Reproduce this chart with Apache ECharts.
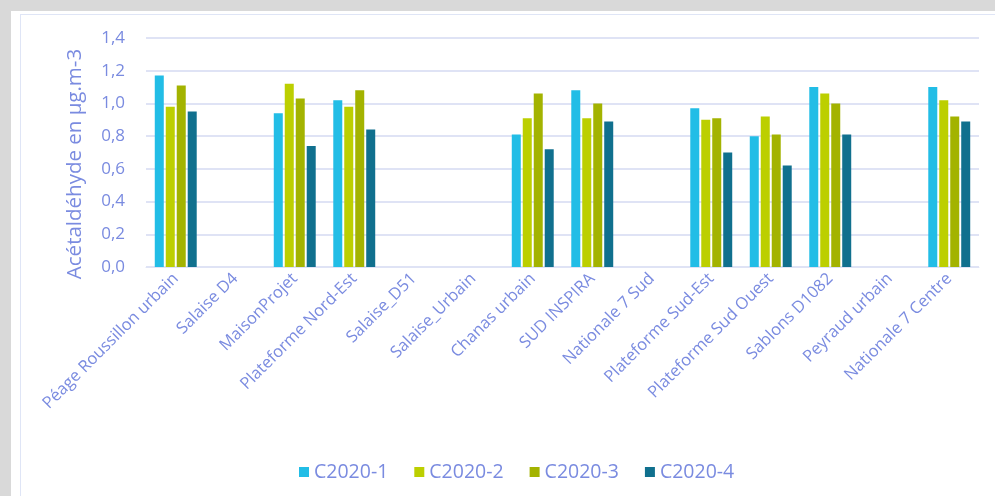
<!DOCTYPE html>
<html>
<head>
<meta charset="utf-8">
<script src="https://cdn.jsdelivr.net/npm/echarts@6/dist/echarts.min.js"></script>
<style>
	body{margin:0;background:#d9d9d9;overflow:hidden;}
	#frame{position:absolute;left:11px;top:11px;width:984px;height:485px;background:#fff;}
	#inner{position:absolute;left:9px;top:3px;width:1000px;height:500px;border:1px solid #dfe5f6;}
	#main{position:absolute;left:0;top:0;width:995px;height:496px;}
</style>
</head>
<body>
<div id="frame"><div id="inner"></div></div>
<div id="main"></div>
<script>
var categories = ['Péage Roussillon urbain','Salaise D4','MaisonProjet','Plateforme Nord-Est','Salaise_D51','Salaise_Urbain','Chanas urbain','SUD INSPIRA','Nationale 7 Sud','Plateforme Sud-Est','Plateforme Sud Ouest','Sablons D1082','Peyraud urbain','Nationale 7 Centre'];
var seriesNames = ['C2020-1','C2020-2','C2020-3','C2020-4'];
var c1 = [1.17, null, 0.94, 1.02, null, null, 0.81, 1.08, null, 0.97, 0.80, 1.10, null, 1.10];
var c2 = [0.98, null, 1.12, 0.98, null, null, 0.91, 0.91, null, 0.90, 0.92, 1.06, null, 1.02];
var c3 = [1.11, null, 1.03, 1.08, null, null, 1.06, 1.00, null, 0.91, 0.81, 1.00, null, 0.92];
var c4 = [0.95, null, 0.74, 0.84, null, null, 0.72, 0.89, null, 0.70, 0.62, 0.81, null, 0.89];
var colors = ['#22bde6','#bccf00','#a3b300','#10708e'];

var txt = '#7a8be0';
var font = "'Open Sans', sans-serif";
var myChart = echarts.init(document.getElementById('main'));
var data = [c1,c2,c3,c4];
var series = [];
for(var i=0;i<data.length;i++){
	series.push({
		name:seriesNames[i],
		type:'bar',
		barWidth:9,
		barGap:'22%',
		itemStyle:{color:colors[i]},
		data:data[i]
	});
}
var option = {
	animation:false,
	color:colors,
	textStyle:{fontFamily:font},
	grid:{left:146,right:16,top:38,bottom:229},
	legend:{
		data:seriesNames,
		left:294, top:457,
		itemWidth:10, itemHeight:10, itemGap:26,
		icon:'rect',
		textStyle:{color:txt,fontSize:19.5,fontFamily:font}
	},
	xAxis:{
		type:'category',
		data:categories,
		axisLine:{lineStyle:{color:'#dfe3f5'}},
		axisTick:{show:false},
		axisLabel:{rotate:45,interval:0,margin:9,color:txt,fontSize:16.5,fontFamily:font}
	},
	yAxis:{
		type:'value',
		min:0,max:1.4,interval:0.2,
		name:'Acétaldéhyde en µg.m-3',
		nameLocation:'middle',
		nameGap:60,
		nameTextStyle:{color:txt,fontSize:20.5,fontFamily:font,padding:[0,0,0,-23]},
		axisLine:{show:false},
		axisTick:{show:false},
		splitLine:{lineStyle:{color:'#dfe3f5',width:2}},
		axisLabel:{margin:21,color:txt,fontSize:17,fontFamily:font,
			formatter:function(v){return v.toFixed(1).replace('.',',');}}
	},
	series:series
};
myChart.setOption(option);
</script>
</body>
</html>
